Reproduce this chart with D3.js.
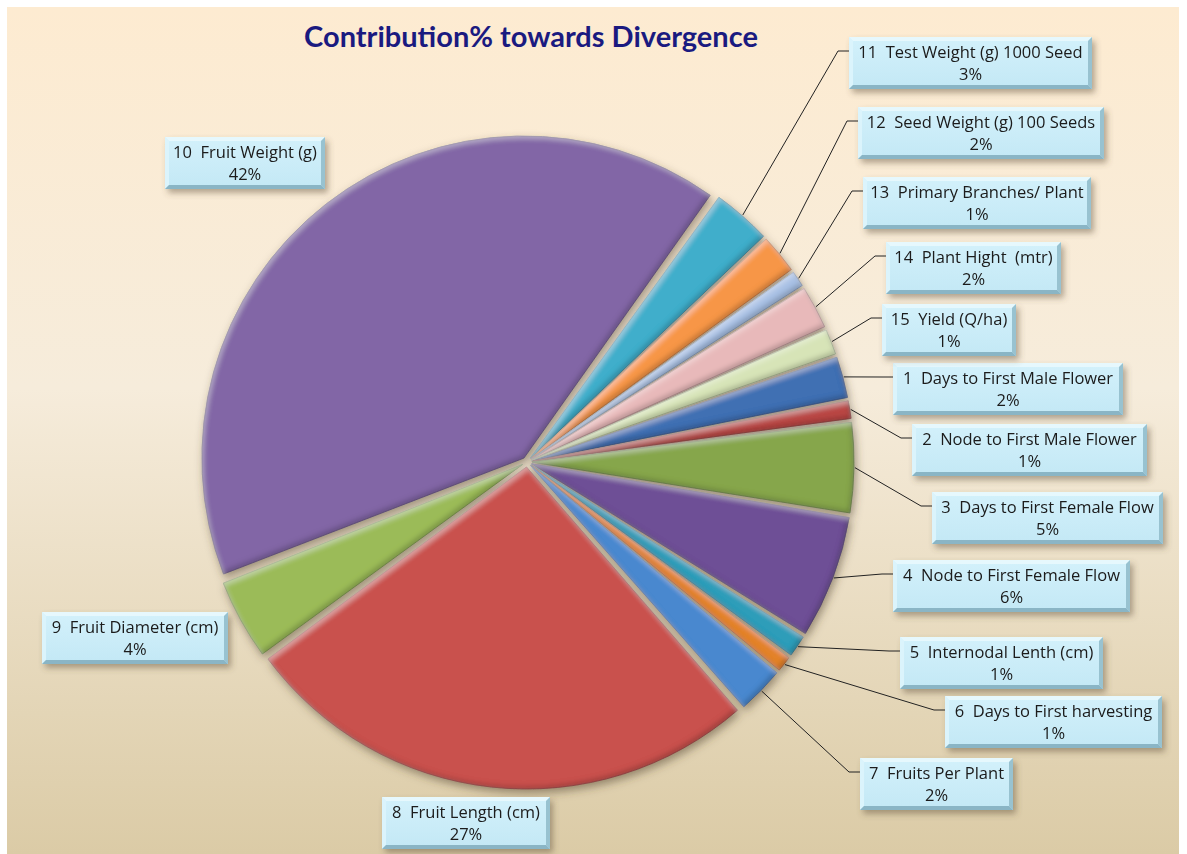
<!DOCTYPE html>
<html>
<head>
<meta charset="utf-8">
<script src="https://cdn.jsdelivr.net/npm/d3@7"></script>
<style>
  body { margin: 0; background: #fff; }
  svg { display: block; font-family: "Open Sans", Lato, sans-serif; }
  text { white-space: pre; }
</style>
</head>
<body>
<div id="chart"></div>
<script>
const width = 1187,
    height = 854;

// chart data (slice order 1..15, clockwise)
const categories = [
  "1  Days to First Male Flower", "2  Node to First Male Flower", "3  Days to First Female Flow",
  "4  Node to First Female Flow", "5  Internodal Lenth (cm)", "6  Days to First harvesting",
  "7  Fruits Per Plant", "8  Fruit Length (cm)", "9  Fruit Diameter (cm)", "10  Fruit Weight (g)",
  "11  Test Weight (g) 1000 Seed", "12  Seed Weight (g) 100 Seeds", "13  Primary Branches/ Plant",
  "14  Plant Hight  (mtr)", "15  Yield (Q/ha)"
];
const values = [2.1, 0.9, 4.6, 6.3, 1.1, 0.8, 2.4, 26.8, 4.1, 41.6, 3.0, 2.0, 0.8, 2.2, 1.3];
const colors = ["#3f6fb3", "#b94744", "#86a64b", "#6e5096", "#2d9db9", "#e3822c", "#4a88cf",
  "#c9514e", "#9bbb59", "#8266a6", "#41aecb", "#f79646", "#a7c0e4", "#e8b9ba", "#d7e4b7"];
const title = "Contribution% towards Divergence";

// where each callout box sits: [left, top, width]
const boxLayout = [
  [893, 363, 230], [912, 424, 235], [932, 492, 231], [893, 560, 237], [900, 637, 203],
  [945, 696, 217], [860, 758, 153], [382, 797, 168], [42, 612, 186], [165, 137, 160],
  [849, 37, 243], [858, 107, 246], [863, 177, 228], [886, 242, 175], [882, 304, 134]
];
const noLeader = [7, 8, 9]; // left side labels have no leader line

const cx = 527, cy = 462, R = 322, explode = 5;
const boxH = 52;

const svg = d3.select("#chart")
    .append("svg")
    .attr("width", width)
    .attr("height", height);

const defs = svg.append("defs");

const bg = defs.append("linearGradient").attr("id", "bg")
    .attr("x1", 0).attr("y1", 0).attr("x2", 0).attr("y2", 1);
bg.append("stop").attr("offset", 0).attr("stop-color", "#fdebd1");
bg.append("stop").attr("offset", 0.45).attr("stop-color", "#f6ecdb");
bg.append("stop").attr("offset", 1).attr("stop-color", "#dbcba6");

const face = defs.append("linearGradient").attr("id", "face")
    .attr("x1", 0).attr("y1", 0).attr("x2", 0).attr("y2", 1);
face.append("stop").attr("offset", 0).attr("stop-color", "#d3f1fb");
face.append("stop").attr("offset", 1).attr("stop-color", "#c3e8f5");

// bevel look for slices
defs.append("filter").attr("id", "bevel")
    .attr("x", "-10%").attr("y", "-10%").attr("width", "120%").attr("height", "120%")
    .html(`
      <feComponentTransfer in="SourceAlpha" result="inv"><feFuncA type="table" tableValues="1 0"/></feComponentTransfer>
      <feGaussianBlur in="inv" stdDeviation="2.5" result="invBlur"/>
      <feOffset in="invBlur" dx="-2" dy="-3" result="offDark"/>
      <feFlood flood-color="#000" flood-opacity="0.4"/>
      <feComposite in2="offDark" operator="in" result="dark"/>
      <feOffset in="invBlur" dx="2" dy="2.5" result="offLight"/>
      <feFlood flood-color="#fff" flood-opacity="0.3"/>
      <feComposite in2="offLight" operator="in" result="light"/>
      <feMerge result="edges"><feMergeNode in="dark"/><feMergeNode in="light"/></feMerge>
      <feComposite in="edges" in2="SourceAlpha" operator="in" result="edgesIn"/>
      <feMerge><feMergeNode in="SourceGraphic"/><feMergeNode in="edgesIn"/></feMerge>`);

defs.append("filter").attr("id", "pieShadow")
    .attr("x", "-10%").attr("y", "-10%").attr("width", "120%").attr("height", "120%")
    .html(`<feDropShadow dx="2" dy="4" stdDeviation="4" flood-color="#4a3a28" flood-opacity="0.5"/>`);

defs.append("filter").attr("id", "boxShadow")
    .attr("x", "-10%").attr("y", "-20%").attr("width", "125%").attr("height", "150%")
    .html(`<feDropShadow dx="3" dy="4" stdDeviation="3" flood-color="#5a4a36" flood-opacity="0.45"/>`);

// background
svg.append("rect")
    .attr("x", 7).attr("y", 7)
    .attr("width", 1172).attr("height", height - 7)
    .attr("fill", "url(#bg)");

svg.append("text")
    .attr("x", 531).attr("y", 47)
    .attr("text-anchor", "middle")
    .attr("font-family", "Lato, 'Open Sans', sans-serif")
    .attr("font-size", 29)
    .attr("font-weight", "bold")
    .attr("fill", "#1a1a80")
    .text(title);

// pie
const start = 71 * Math.PI / 180;
const pie = d3.pie().sort(null).value(d => d)
    .startAngle(start).endAngle(start + 2 * Math.PI)
    .padAngle(3 / R);
const arcs = pie(values);
const arc = d3.arc().innerRadius(0).outerRadius(R);
const mid = d => (d.startAngle + d.endAngle) / 2;

const pieG = svg.append("g").attr("filter", "url(#pieShadow)");
pieG.selectAll("path")
    .data(arcs)
    .join("path")
    .attr("transform", d => `translate(${cx + explode * Math.sin(mid(d))},${cy - explode * Math.cos(mid(d))})`)
    .attr("d", arc)
    .attr("fill", (d, i) => colors[i])
    .attr("stroke", (d, i) => d3.color(colors[i]).darker(0.7))
    .attr("stroke-width", 0.8)
    .attr("filter", "url(#bevel)");

// leader lines
const total = d3.sum(values);
svg.append("g")
    .selectAll("path")
    .data(arcs.filter((d, i) => !noLeader.includes(i)))
    .join("path")
    .attr("d", d => {
      const i = d.index, b = boxLayout[i], a = mid(d), r = R + explode + 1;
      const x0 = cx + r * Math.sin(a), y0 = cy - r * Math.cos(a);
      const yb = b[1] + 14;
      return `M${x0},${y0}L${b[0] - 11},${yb}L${b[0]},${yb}`;
    })
    .attr("fill", "none")
    .attr("stroke", "#222")
    .attr("stroke-width", 1);

// callout boxes
const boxes = svg.append("g")
    .selectAll("g")
    .data(arcs)
    .join("g")
    .attr("filter", "url(#boxShadow)")
    .attr("transform", d => `translate(${boxLayout[d.index][0]},${boxLayout[d.index][1]})`);

const bv = 4;
boxes.append("rect")
    .attr("width", d => boxLayout[d.index][2]).attr("height", boxH)
    .attr("fill", "url(#face)");
boxes.append("path") // top edge
    .attr("d", d => { const w = boxLayout[d.index][2]; return `M0,0H${w}L${w - bv},${bv}H${bv}Z`; })
    .attr("fill", "#e6f8fd");
boxes.append("path") // left edge
    .attr("d", d => `M0,0L${bv},${bv}V${boxH - bv}L0,${boxH}Z`)
    .attr("fill", "#dbf4fc");
boxes.append("path") // right edge
    .attr("d", d => { const w = boxLayout[d.index][2]; return `M${w},0V${boxH}L${w - bv},${boxH - bv}V${bv}Z`; })
    .attr("fill", "#98c2d0");
boxes.append("path") // bottom edge
    .attr("d", d => { const w = boxLayout[d.index][2]; return `M0,${boxH}L${bv},${boxH - bv}H${w - bv}L${w},${boxH}Z`; })
    .attr("fill", "#8ab5c5");

boxes.append("text")
    .attr("x", d => boxLayout[d.index][2] / 2)
    .attr("y", 21)
    .attr("text-anchor", "middle")
    .attr("font-size", 16.5)
    .attr("fill", "#1a1a1a")
    .text(d => categories[d.index]);

boxes.append("text")
    .attr("x", d => boxLayout[d.index][2] / 2)
    .attr("y", 43)
    .attr("text-anchor", "middle")
    .attr("font-size", 16.5)
    .attr("fill", "#1a1a1a")
    .text(d => Math.round(d.value / total * 100) + "%");
</script>
</body>
</html>
